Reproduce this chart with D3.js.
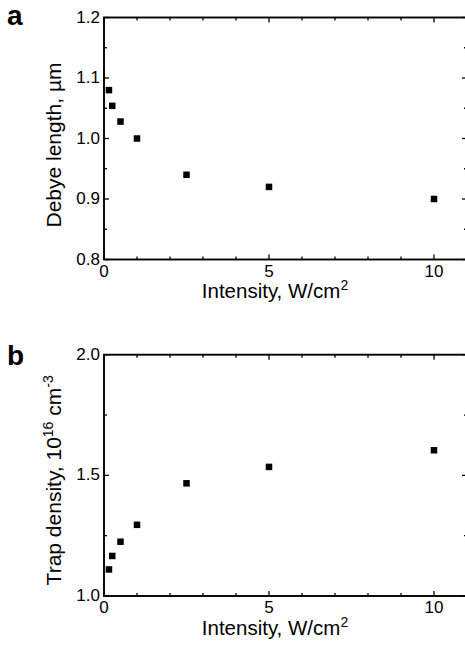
<!DOCTYPE html>
<html><head><meta charset="utf-8">
<script src="https://cdn.jsdelivr.net/npm/d3@7"></script>
<style>body{margin:0;background:#fff}svg{display:block}text{font-family:"Liberation Sans",Arial,sans-serif;fill:#000}</style>
</head><body>
<script>
const intensity = [0.15, 0.25, 0.5, 1, 2.5, 5, 10];
const debyeLength = [1.08, 1.054, 1.028, 1.0, 0.94, 0.92, 0.9];
const trapDensity = [1.11, 1.166, 1.225, 1.295, 1.467, 1.535, 1.604];
const xMajorTicks = [0, 5, 10];
const xMinorTicks = [1, 2, 3, 4, 6, 7, 8, 9, 11];
const aMajorTicks = [0.8, 0.9, 1.0, 1.1, 1.2];
const aMinorTicks = [0.85, 0.95, 1.05, 1.15];
const bMajorTicks = [1.0, 1.5, 2.0];
const bMinorTicks = [1.25, 1.75];

const W = 465, H = 649;
const svg = d3.select("body").append("svg").attr("width", W).attr("height", H);

function panel(opts) {
  const {top, bottom, yDomain, values, majY, minY, fmtY, label, labelDy, titleDy, titleFn} = opts;
  const left = 104, right = 467;
  const x = d3.scaleLinear().domain([0, 11]).range([left, right]);
  const y = d3.scaleLinear().domain(yDomain).range([bottom, top]);
  const g = svg.append("g");
  const TL = 5, TS = 3;
  g.append("rect").attr("x", left).attr("y", top).attr("width", right - left).attr("height", bottom - top)
    .attr("fill", "none").attr("stroke", "#000").attr("stroke-width", 1.9);
  const xt = xMajorTicks.map(v => ({v, l: TL})).concat(xMinorTicks.map(v => ({v, l: TS})));
  xt.forEach(t => {
    g.append("line").attr("x1", x(t.v)).attr("x2", x(t.v)).attr("y1", bottom).attr("y2", bottom - t.l).attr("stroke", "#000").attr("stroke-width", 1.3);
    g.append("line").attr("x1", x(t.v)).attr("x2", x(t.v)).attr("y1", top).attr("y2", top + t.l).attr("stroke", "#000").attr("stroke-width", 1.3);
  });
  const yt = majY.map(v => ({v, l: TL})).concat(minY.map(v => ({v, l: TS})));
  yt.forEach(t => {
    g.append("line").attr("y1", y(t.v)).attr("y2", y(t.v)).attr("x1", left).attr("x2", left + t.l).attr("stroke", "#000").attr("stroke-width", 1.3);
    g.append("line").attr("y1", y(t.v)).attr("y2", y(t.v)).attr("x1", right).attr("x2", right - t.l).attr("stroke", "#000").attr("stroke-width", 1.3);
  });
  xMajorTicks.forEach(v => {
    g.append("text").attr("x", x(v)).attr("y", bottom + 17).attr("text-anchor", "middle").attr("font-size", 17).text(d3.format("d")(v));
  });
  majY.forEach(v => {
    g.append("text").attr("x", left - 4).attr("y", y(v) + 5).attr("text-anchor", "end").attr("font-size", 17).text(fmtY(v));
  });
  const s = 6.5;
  g.selectAll("rect.pt").data(intensity.map((d, i) => [d, values[i]])).join("rect").attr("class", "pt")
    .attr("x", d => x(d[0]) - s / 2).attr("y", d => y(d[1]) - s / 2).attr("width", s).attr("height", s).attr("fill", "#000");
  const xtit = g.append("text").attr("x", 275).attr("y", bottom + 38.5).attr("text-anchor", "middle").attr("font-size", 20.5);
  xtit.append("tspan").text("Intensity, W/cm");
  xtit.append("tspan").attr("font-size", 14).attr("dy", -8).text("2");
  const yt2 = g.append("text").attr("transform", `translate(61,${(top + bottom) / 2 + titleDy}) rotate(-90)`).attr("text-anchor", "middle").attr("font-size", 21);
  titleFn(yt2);
  g.append("text").attr("x", 7).attr("y", top + labelDy).attr("font-size", 28).attr("font-weight", "bold").text(label);
}

panel({top: 17.5, bottom: 259.5, yDomain: [0.8, 1.2], values: debyeLength, majY: aMajorTicks, minY: aMinorTicks,
  fmtY: d3.format(".1f"), label: "a", labelDy: 7.5, titleDy: 6.5, titleFn: t => t.text("Debye length, \u00b5m")});
panel({top: 354.7, bottom: 596, yDomain: [1.0, 2.0], values: trapDensity, majY: bMajorTicks, minY: bMinorTicks,
  fmtY: d3.format(".1f"), label: "b", labelDy: 10.3, titleDy: 5, titleFn: t => {
    t.append("tspan").text("Trap density, 10");
    t.append("tspan").attr("font-size", 14).attr("dy", -8).text("16");
    t.append("tspan").attr("dy", 8).text(" cm");
    t.append("tspan").attr("font-size", 14).attr("dy", -8).text("-3");
  }});
</script>
</body></html>
